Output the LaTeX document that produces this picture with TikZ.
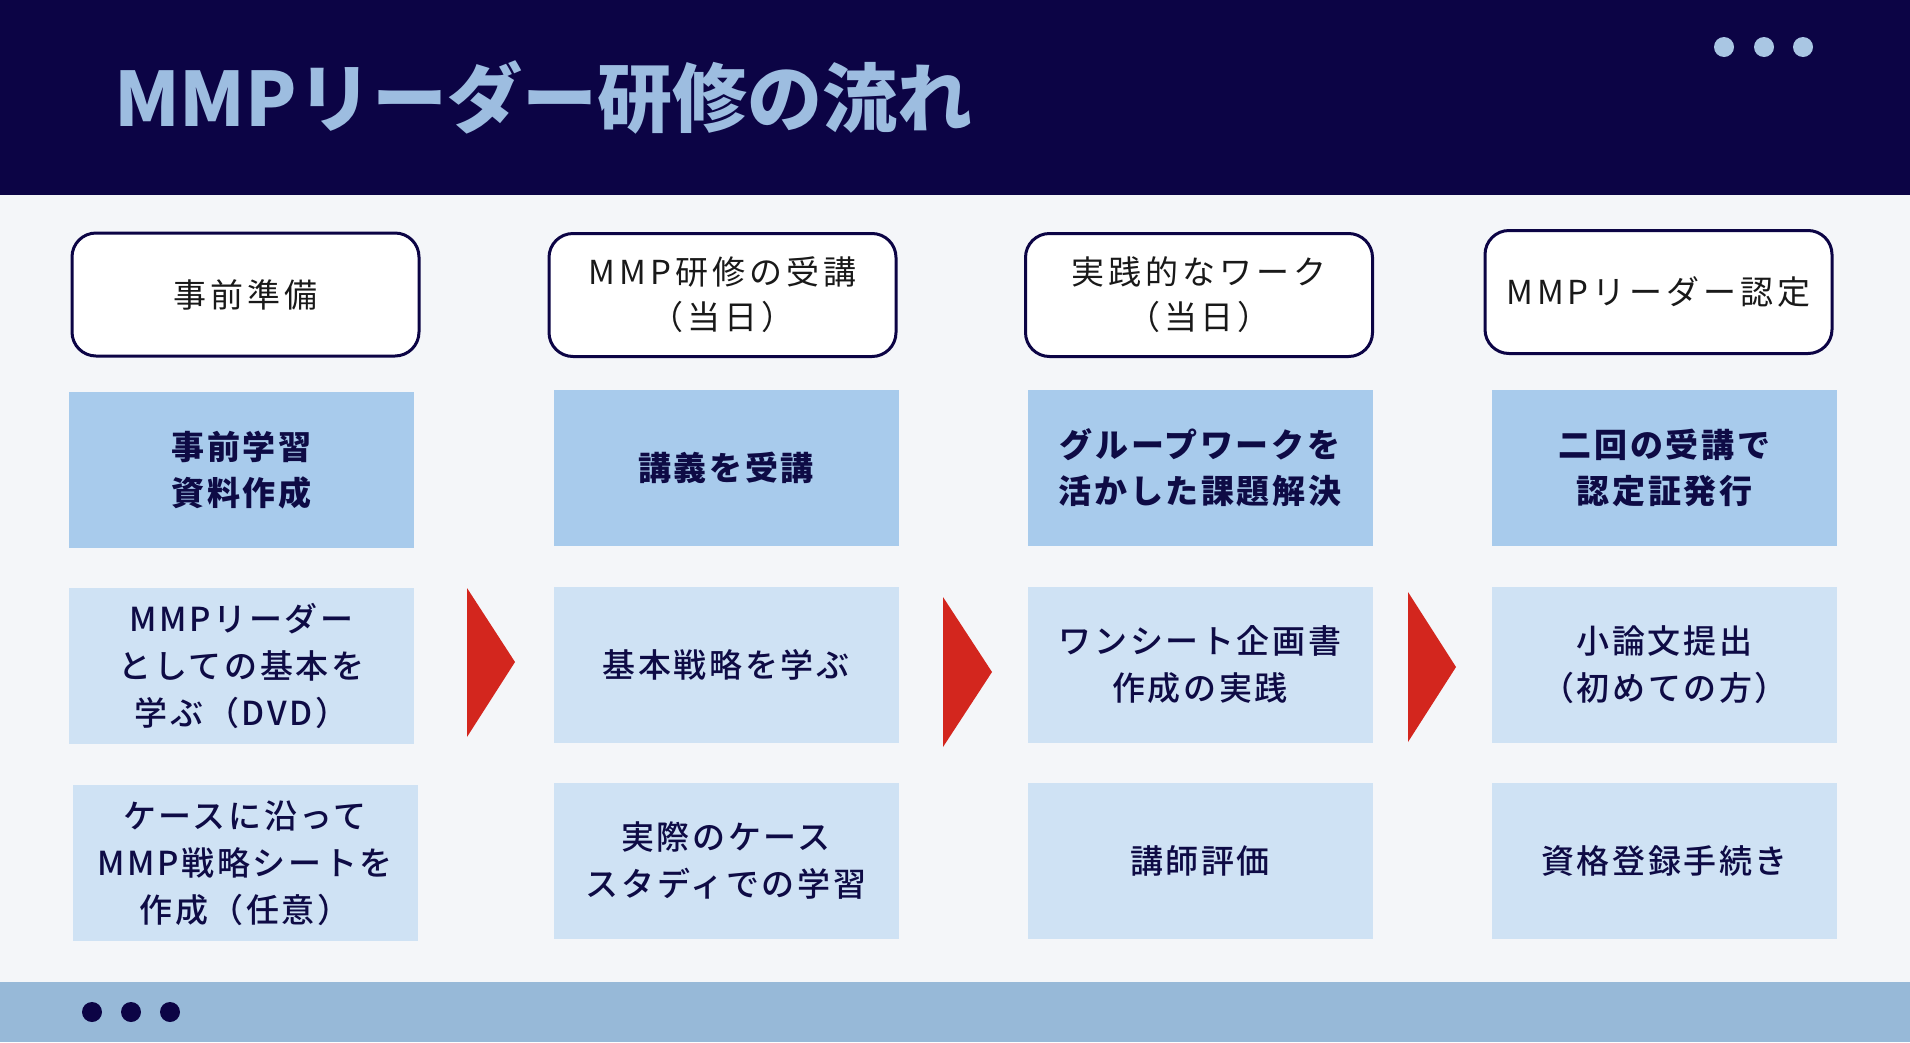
\documentclass[tikz,border=0pt]{standalone}
\usepackage{fontspec}
\usepackage{xcolor}
\usepackage{tikz}
\usetikzlibrary{positioning}
\setmainfont{Noto Sans CJK JP}
\newfontfamily\hdrfont{Noto Sans CJK JP}[LetterSpace=12]
\newfontfamily\rowfont{Noto Sans CJK JP}[LetterSpace=8]
\newfontfamily\medfont{Noto Sans CJK JP Medium}[LetterSpace=8]

\definecolor{navy}{HTML}{0C0445}
\definecolor{titleblue}{HTML}{9DBDE0}
\definecolor{dotblue}{HTML}{A9C6E3}
\definecolor{pagebg}{HTML}{F4F6F9}
\definecolor{rowdark}{HTML}{A8CBEC}
\definecolor{rowlight}{HTML}{CFE2F4}
\definecolor{footblue}{HTML}{97B9D8}
\definecolor{arrowred}{HTML}{D3261E}
\definecolor{textnavy}{HTML}{0E0B45}

\tikzset{
    hdr/.style={draw=navy, line width=3pt, fill=white, rounded corners=24pt,
        minimum width=347pt, minimum height=123pt, inner sep=0pt, align=center,
        text=black!90, font=\hdrfont\fontsize{33}{45}\selectfont},
    rowbox/.style={minimum width=345pt, minimum height=156pt, inner sep=0pt,
        align=center, text=textnavy},
    rowa/.style={rowbox, fill=rowdark, font=\rowfont\bfseries\fontsize{33}{46}\selectfont},
    rowb/.style={rowbox, fill=rowlight, font=\medfont\fontsize{33}{47}\selectfont},
    dot/.style={circle, inner sep=0pt, minimum size=20pt}
}

\begin{document}
\begin{tikzpicture}[x=1pt, y=-1pt]
    \useasboundingbox (0,0) rectangle (1910,1042);
    \fill[pagebg] (0,0) rectangle (1910,1042);
    \fill[navy] (0,0) rectangle (1910,195);
    \fill[footblue] (0,982) rectangle (1910,1042);

    % title and dots
    \node[anchor=west, inner sep=0pt, text=titleblue,
        font=\bfseries\fontsize{75}{80}\selectfont] (title) at (114,97) {MMPリーダー研修の流れ};
    \node[dot, fill=dotblue] (d1) at (1724,47) {};
    \node[dot, fill=dotblue] (d2) at (1764,47) {};
    \node[dot, fill=dotblue] (d3) at (1803,47) {};
    \node[dot, fill=navy] (f1) at (92,1012) {};
    \node[dot, fill=navy] (f2) at (131,1012) {};
    \node[dot, fill=navy] (f3) at (170,1012) {};

    % stage headers
    \node[hdr] (h1) at (245.5,294.5) {事前準備};
    \node[hdr] (h2) at (722.5,295) {MMP研修の受講\\（当日）};
    \node[hdr] (h3) at (1199,295) {実践的なワーク\\（当日）};
    \node[hdr] (h4) at (1658.5,292) {MMPリーダー認定};

    % first row
    \node[rowa] (a1) at (241.5,470) {事前学習\\資料作成};
    \node[rowa] (a2) at (726,468) {講義を受講};
    \node[rowa] (a3) at (1200,468) {グループワークを\\活かした課題解決};
    \node[rowa] (a4) at (1664.5,468) {二回の受講で\\認定証発行};

    % second row
    \node[rowb] (b1) at (241.5,666) {MMPリーダー\\としての基本を\\学ぶ（DVD）};
    \node[rowb] (b2) at (726,665) {基本戦略を学ぶ};
    \node[rowb] (b3) at (1200,665) {ワンシート企画書\\作成の実践};
    \node[rowb] (b4) at (1664.5,665) {小論文提出\\（初めての方）};

    % third row
    \node[rowb] (c1) at (245,863) {ケースに沿って\\MMP戦略シートを\\作成（任意）};
    \node[rowb] (c2) at (726,861) {実際のケース\\スタディでの学習};
    \node[rowb] (c3) at (1200,861) {講師評価};
    \node[rowb] (c4) at (1664.5,861) {資格登録手続き};

    % arrows
    \fill[arrowred] (467,588) -- (515,662) -- (467,737) -- cycle;
    \fill[arrowred] (943,597) -- (992,672) -- (943,747) -- cycle;
    \fill[arrowred] (1408,592) -- (1456,667) -- (1408,742) -- cycle;
\end{tikzpicture}
\end{document}
